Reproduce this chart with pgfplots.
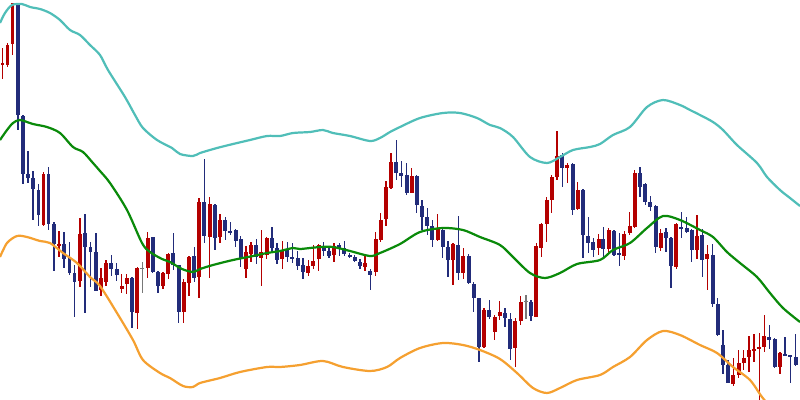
\documentclass[border=0pt]{standalone}
\usepackage{pgfplots}
\pgfplotsset{compat=1.18}
\usepackage{pgfplotstable}

\definecolor{cRed}{RGB}{180,0,0}
\definecolor{cBlue}{RGB}{34,44,122}
\definecolor{cGrey}{RGB}{120,120,120}
\definecolor{cTeal}{RGB}{80,190,184}
\definecolor{cGreen}{RGB}{10,138,10}
\definecolor{cOrange}{RGB}{245,160,48}

% candles: x, body top, body bottom, high, low (chart units, y grows downward)
\pgfplotstableread{
x top bot hi lo
2.5 63 65 48 79
7.5 45 65 43 67
12.5 3 44 3 55
43.5 174 225 172 226
59 244 245.5 231 257
80 234 281 218 287
101 278 290 268 296
106 263 282 260 286
121.7 286 289 274 293
126.7 278 284 274 294
137.3 268 313 267 329
147.7 238 268 232 278
163 273 286 272 289
168.3 254 274 253 279
183.7 282 312 279 323
189 257 283 256 296
199 202 277 198 298
209.7 204 237 197 278
220 220 237 214 243
246 252 269 246 278
251 245 254 242 262
261.3 252 258 230 286
266.7 238 255 237 259
282.3 251 259 241 269
308.3 266 273 260 276
313.3 261 266 245 269
318.7 245 259 244 271
334 246 255 243 262
365 263 267 256 271
375.7 239 272 232 276
380.7 220 240 213 242
386 187 219 181 226
391 162 188 153 189
411.7 176 193 168 193
437.7 228 240 214 241
453 244 260 243 285
463.3 256 273 248 279
484 310 347 308 348
494.7 317 332 315 340
499.7 312 316 301 320
515.3 321 348 318 367
520.7 302 321 296 325
536.3 246 317 243 317
541.3 224 248 223 257
546.7 200 224 197 242
551.7 177 200 175 213
557 156 177 131 180
567.3 165 168 163 183
577.7 190 209 182 210
598.7 239 248 234 255
608.7 230 249 228 253
624.3 234 256 231 260
629.7 226 233 212 235
634.7 173 227 170 228
660.7 233 248 229 251
676.3 224 267 223 269
697 236 250 215 259
707.3 254 259 245 290
733.3 375 384 358 386
738.7 363 375 350 378
743.7 358 363 350 370
749 350 357 336 372
754 349 351 334 362
759.3 347 349 333 400
764.3 336 347 315 352
780 353 367 352 374
}\upcandles

\pgfplotstableread{
x top bot hi lo
18 3 115 3 130
23 116 174 115 184
28 174 178 151 183
33 178 189 171 220
38.5 190 215 184 226
48.5 174 224 167 230
54 224 244 222 271
64 244 259 232 268
69.5 258 273 242 275
74.5 273 282 265 317
85 233 247 214 313
90.5 247 252 242 287
96 252 291 233 291
111.3 263 269 255 276
116.7 269 275 263 281
132 278 312 277 328
152.7 237 272 237 273
158 272 286 271 293
173.3 253 265 233 270
178.7 265 312 265 323
194.3 256 278 247 282
204.3 202 236 159 243
215 205 238 204 250
225.3 220 231 217 240
230.3 231 232.5 222 235
235.7 230 241 229 247
240.7 239 259 236 267
256.3 245 257 239 264
272 238 248 227 253
277 248 260 243 264
287.3 250 257 242 262
292.3 257 258.5 243 263
297.7 258 266 251 270
303 265 272 258 279
323.7 246 251 242 256
329 251 256 247 258
339.3 245 248 243 256
344.3 248 254 241 256
349.7 255 257 253 258
354.7 257 261 255 262
360 262 266 259 269
370.3 271 275 269 290
396.3 162 173 140 180
401.3 173 176 161 187
406.7 175 193 163 195
416.7 176 205 175 213
422 206 217 200 230
427.3 217 226 208 235
432.3 226 240 220 247
442.7 230 247 228 258
448 247 260 241 277
458.3 245 273 216 280
468.7 256 283 254 284
473.7 284 298 282 312
479 298 347 298 362
489.3 310 317 300 319
505 313 318 308 327
510.3 319 349 313 360
531 302 316 300 321
562.3 155 168 153 187
572.7 164 210 163 215
583 190 235 189 258
588.3 236 243 217 253
593.3 242 250 238 257
603.3 239 249 227 259
614 231 255 230 256
619.3 253 255 233 266
640 173 187 167 197
645.3 184 202 183 205
650.3 202 207 196 211
655.7 206 247 205 253
666 232 238 228 252
671 238 266 237 288
681.3 227 229 212 238
686.7 228 232 217 233
691.7 230 250 229 262
702.3 235 260 229 277
712.7 255 304 244 307
717.7 304 335 298 336
723 345 365 330 374
728 365 383 360 383
769.3 337 340 325 349
774.7 339 367 338 368
785 354 355.5 337 356
790.3 355 357 355 383
795.7 357 365 334 366
}\downcandles

\pgfplotstableread{
x top bot hi lo
142.3 267.5 269 262 293
526 300.5 302 295 319
}\dojis

% bands: x, y
\pgfplotstableread{
x y
0 23
5 13
12 5
22 4
30 7
40 9
50 13
60 20
70 30
80 35
90 45
100 55
108 70
125 97
135 115
143 128
157 140
172 148
180 154
193 156
200 153
217 148
233 144
250 140
267 136
280 136
293 133
310 132
323 130
333 133
350 136
370 141
380 138
390 132
400 127
420 118
443 113
460 113
477 118
490 125
500 128
513 137
530 157
547 163
560 157
573 150
590 147
600 144
613 135
630 127
647 107
663 100
680 105
690 110
700 115
713 122
723 130
737 145
757 163
767 177
780 190
790 198
800 206
}\bandUp

\pgfplotstableread{
x y
0 140
7 130
13 123
20 120
33 124
47 127
60 133
73 147
83 152
93 163
100 171
110 183
127 210
142 243
150 252
162 259
170 262
182 269
193 272
200 269
213 265
233 260
253 256
267 253
280 251
293 248
300 249
320 247
333 247
350 251
370 256
380 253
400 244
420 232
443 228
463 230
480 237
500 245
513 257
530 273
545 278
560 273
577 264
600 260
613 250
630 243
647 228
663 216
680 220
700 230
713 237
727 252
740 263
757 277
770 293
783 308
800 322
}\bandMid

\pgfplotstableread{
x y
0 257
7 243
17 236
27 237
40 241
50 243
63 253
77 263
90 277
100 286
117 313
133 340
143 360
160 373
170 378
183 386
193 387
200 383
220 378
240 372
267 367
280 367
300 365
323 361
343 367
370 371
387 367
400 358
420 348
443 343
463 345
480 350
500 359
517 373
533 388
547 393
560 388
577 380
600 375
613 367
630 357
647 340
663 331
680 335
700 345
717 353
733 367
750 380
762 397
775 412
}\bandLow

\pgfplotsset{
  wick/.style={draw=none, mark=none, forget plot,
    error bars/.cd, y dir=plus, y explicit, error mark=none,
    error bar style={draw=#1, line width=0.75pt}},
  body/.style={draw=none, mark=none, forget plot,
    error bars/.cd, y dir=plus, y explicit, error mark=none,
    error bar style={draw=#1, line width=2.8pt}},
  band/.style={draw=#1, line width=1.6pt, mark=none, smooth},
}

\begin{document}
\begin{tikzpicture}
\useasboundingbox (0,0) rectangle (8in,4in);
\begin{axis}[
    width=8in, height=4in, scale only axis,
    hide axis,
    xmin=0, xmax=800,
    ymin=0, ymax=400,
    y dir=reverse,
]
% wicks
\addplot[wick=cRed] table[x=x, y=hi, y error plus expr=\thisrow{lo}-\thisrow{hi}, y error minus expr=0] {\upcandles};
\addplot[wick=cBlue] table[x=x, y=hi, y error plus expr=\thisrow{lo}-\thisrow{hi}, y error minus expr=0] {\downcandles};
\addplot[wick=cGrey] table[x=x, y=hi, y error plus expr=\thisrow{lo}-\thisrow{hi}, y error minus expr=0] {\dojis};
% bodies
\addplot[body=cRed] table[x=x, y=top, y error plus expr=\thisrow{bot}-\thisrow{top}, y error minus expr=0] {\upcandles};
\addplot[body=cBlue] table[x=x, y=top, y error plus expr=\thisrow{bot}-\thisrow{top}, y error minus expr=0] {\downcandles};
\addplot[body=cGrey] table[x=x, y=top, y error plus expr=\thisrow{bot}-\thisrow{top}, y error minus expr=0] {\dojis};
% bands
\addplot[band=cTeal] table {\bandUp};
\addplot[band=cGreen] table {\bandMid};
\addplot[band=cOrange] table {\bandLow};
\end{axis}
\end{tikzpicture}
\end{document}
